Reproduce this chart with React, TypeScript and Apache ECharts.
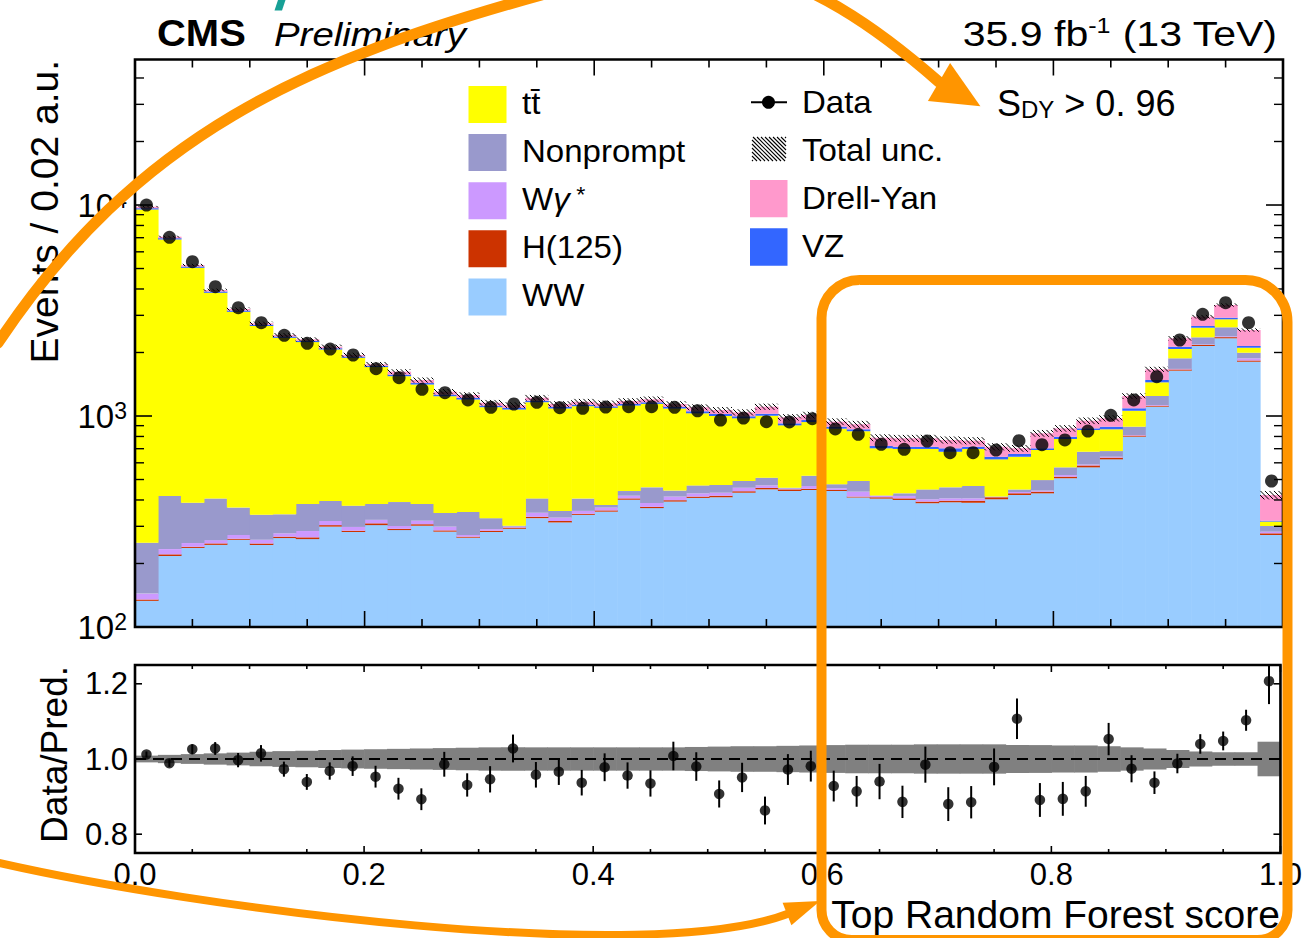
import React, { useEffect, useRef } from 'react';
import * as echarts from 'echarts';

// ---------------- data ----------------
const BIN_WIDTH = 0.02;

const ww = [133, 217, 237, 245, 259, 245, 264, 261, 299, 282, 304, 288, 302, 283, 265, 282, 292, 328, 313, 340, 352, 401, 366, 393, 409, 412, 433, 449, 441, 446, 441, 411, 406, 400, 386, 390, 388, 403, 422, 430, 507, 571, 623, 798, 1107, 1640, 2147, 2335, 1808, 273];
const higgs = [2, 4, 3, 4, 3, 4, 4, 5, 5, 4, 6, 4, 5, 4, 3, 4, 4, 5, 5, 4, 5, 6, 5, 6, 6, 7, 7, 7, 8, 6, 5, 4, 6, 7, 7, 7, 9, 9, 8, 8, 9, 12, 12, 10, 12, 22, 25, 30, 25, 5];
const wgamma = [9, 13, 10, 9, 11, 10, 10, 19, 14, 12, 12, 9, 12, 12, 5, 5, 3, 15, 12, 11, 11, 12, 16, 16, 15, 14, 17, 13, 4, 14, 8, 23, 6, 11, 10, 10, 10, 1, 6, 5, 9, 6, 6, 5, 8, 10, 10, 20, 44, 5];
const nonprompt = [107, 184, 138, 148, 95, 81, 64, 98, 78, 78, 61, 90, 64, 48, 78, 37, 3, 59, 25, 51, 11, 22, 72, 28, 39, 38, 35, 41, 4, 55, 21, 54, 2, 12, 46, 52, 59, 2, 13, 54, 46, 88, 41, 77, 117, 205, 178, 248, 118, 18];
const ttbar = [9271, 6446, 4651, 3431, 2750, 2327, 2005, 1857, 1670, 1512, 1322, 1153, 1027, 894, 846, 773, 771, 756, 730, 707, 714, 680, 683, 642, 561, 529, 483, 493, 446, 415, 396, 355, 283, 268, 249, 218, 232, 208, 192, 193, 207, 181, 183, 169, 200, 200, 261, 240, 112, 15];
const vz = [136, 98, 72, 55, 45, 38, 34, 32, 29, 26, 24, 26, 23, 21, 20, 18, 18, 19, 18, 18, 18, 19, 19, 18, 23, 22, 22, 22, 20, 21, 19, 18, 18, 17, 17, 26, 17, 18, 20, 13, 20, 16, 25, 29, 37, 53, 49, 51, 40, 3];
const drellYan = [159, 115, 84, 64, 52, 45, 39, 37, 35, 32, 29, 52, 48, 42, 41, 37, 36, 39, 37, 38, 37, 38, 39, 37, 47, 46, 44, 82, 63, 54, 50, 49, 68, 69, 69, 67, 49, 74, 42, 125, 76, 76, 85, 156, 184, 205, 286, 434, 409, 103];

const dataCounts = [10000, 7030, 5386, 4101, 3261, 2768, 2412, 2211, 2077, 1946, 1676, 1519, 1338, 1290, 1191, 1100, 1140, 1161, 1095, 1088, 1103, 1107, 1107, 1100, 1059, 957, 978, 940, 937, 971, 868, 819, 734, 695, 761, 670, 670, 690, 764, 731, 770, 849, 1008, 1191, 1536, 2292, 3034, 3444, 2768, 492];

const ratio = [1.012, 0.989, 1.026, 1.028, 0.997, 1.015, 0.973, 0.939, 0.968, 0.981, 0.953, 0.921, 0.893, 0.986, 0.931, 0.946, 1.028, 0.958, 0.966, 0.937, 0.978, 0.956, 0.935, 1.008, 0.980, 0.907, 0.951, 0.863, 0.972, 0.981, 0.928, 0.914, 0.940, 0.886, 0.985, 0.880, 0.885, 0.979, 1.107, 0.891, 0.894, 0.914, 1.053, 0.974, 0.937, 0.988, 1.040, 1.048, 1.103, 1.207];
const ratioErr = [0.008, 0.010, 0.013, 0.017, 0.019, 0.022, 0.020, 0.021, 0.023, 0.026, 0.029, 0.029, 0.029, 0.033, 0.031, 0.035, 0.037, 0.034, 0.035, 0.034, 0.037, 0.035, 0.035, 0.038, 0.038, 0.036, 0.039, 0.037, 0.041, 0.041, 0.041, 0.041, 0.047, 0.043, 0.048, 0.045, 0.043, 0.049, 0.054, 0.045, 0.045, 0.041, 0.043, 0.036, 0.030, 0.026, 0.026, 0.025, 0.028, 0.061];
const relUnc = [0.009, 0.011, 0.013, 0.015, 0.017, 0.019, 0.021, 0.022, 0.024, 0.025, 0.026, 0.027, 0.028, 0.029, 0.030, 0.031, 0.031, 0.031, 0.031, 0.031, 0.031, 0.031, 0.031, 0.031, 0.032, 0.033, 0.034, 0.034, 0.035, 0.036, 0.037, 0.038, 0.038, 0.038, 0.039, 0.039, 0.039, 0.039, 0.037, 0.037, 0.036, 0.036, 0.034, 0.031, 0.028, 0.024, 0.020, 0.018, 0.018, 0.046];

// tick values
const X_TICKS = [0, 0.05, 0.1, 0.15, 0.2, 0.25, 0.3, 0.35, 0.4, 0.45, 0.5, 0.55, 0.6, 0.65, 0.7, 0.75, 0.8, 0.85, 0.9, 0.95, 1.0];
const X_MAJOR = [0, 0.2, 0.4, 0.6, 0.8, 1.0];
const Y_MAIN_MAJOR = [100, 1000, 10000];
const Y_MAIN_MINOR = [200, 300, 400, 500, 600, 700, 800, 900, 2000, 3000, 4000, 5000, 6000, 7000, 8000, 9000, 20000, 30000, 40000];
const Y_RATIO_MAJOR = [0.8, 1.0, 1.2];

const Y_MIN = 100;
const Y_MAX = 48940;
const R_MIN = 0.75;
const R_MAX = 1.25;

const FONT = '"Liberation Sans", Arial, Helvetica, sans-serif';
const ORANGE = '#FF9500';

const components = [
  { name: 'WW', values: ww, color: '#99CCFF' },
  { name: 'H(125)', values: higgs, color: '#CC3300' },
  { name: 'Wγ*', values: wgamma, color: '#CC99FF' },
  { name: 'Nonprompt', values: nonprompt, color: '#9999CC' },
  { name: 'tt̄', values: ttbar, color: '#FFFF00' },
  { name: 'VZ', values: vz, color: '#3366FF' },
  { name: 'Drell-Yan', values: drellYan, color: '#FF99CC' },
];

// ---------------- helpers ----------------
function hatchLines(x0: number, y0: number, x1: number, y1: number, step: number) {
  const out: number[][] = [];
  if (!(x1 > x0 && y1 > y0)) return out;
  const cStart = Math.ceil((x0 - y1) / step) * step;
  for (let c = cStart; c <= x1 - y0; c += step) {
    const xa = Math.max(x0, c + y0);
    const xb = Math.min(x1, c + y1);
    if (xb > xa) out.push([xa, xa - c, xb, xb - c]);
  }
  return out;
}

function rectRenderer(color: string, widen = 0.6) {
  return (params: any, api: any) => {
    const cs = params.coordSys;
    const a = api.coord([api.value(0), api.value(3)]);
    const b = api.coord([api.value(1), api.value(2)]);
    const shape = echarts.graphic.clipRectByRect(
      { x: a[0], y: a[1], width: b[0] - a[0] + widen, height: b[1] - a[1] },
      { x: cs.x, y: cs.y, width: cs.width, height: cs.height }
    );
    if (!shape) return null;
    return { type: 'rect', shape, style: { fill: color } };
  };
}

function frameRenderer(yMajor: number[], yMinor: number[], yRef: number, lens: { xMaj: number; xMin: number; yMaj: number; yMin: number }) {
  return (params: any, api: any) => {
    const cs = params.coordSys;
    const children: any[] = [];
    const line = (x1: number, y1: number, x2: number, y2: number, w: number) =>
      children.push({ type: 'line', shape: { x1, y1, x2, y2 }, style: { stroke: '#000', lineWidth: w } });
    const bottom = cs.y + cs.height;
    const right = cs.x + cs.width;
    X_TICKS.forEach((v) => {
      const major = X_MAJOR.some((m) => Math.abs(m - v) < 1e-9);
      const px = api.coord([v, yRef])[0];
      const len = major ? lens.xMaj : lens.xMin;
      line(px, bottom, px, bottom - len, 1.6);
      line(px, cs.y, px, cs.y + len, 1.6);
    });
    yMajor.forEach((v) => {
      const py = api.coord([0.5, v])[1];
      line(cs.x, py, cs.x + lens.yMaj, py, 1.6);
      line(right, py, right - lens.yMaj, py, 1.6);
    });
    yMinor.forEach((v) => {
      const py = api.coord([0.5, v])[1];
      line(cs.x, py, cs.x + lens.yMin, py, 1.4);
      line(right, py, right - lens.yMin, py, 1.4);
    });
    children.push({
      type: 'rect',
      shape: { x: cs.x, y: cs.y, width: cs.width, height: cs.height },
      style: { fill: 'none', stroke: '#000', lineWidth: 2.6 },
    });
    return { type: 'group', children };
  };
}

function buildOption() {
  const nBins = ww.length;
  const running = new Array(nBins).fill(0);
  const series: any[] = [];

  components.forEach((c) => {
    const d = c.values.map((v, i) => {
      const lo = running[i];
      const hi = lo + v;
      running[i] = hi;
      return [i * BIN_WIDTH, (i + 1) * BIN_WIDTH, Math.max(lo, Y_MIN * 0.5), hi];
    });
    series.push({
      type: 'custom',
      name: c.name,
      xAxisIndex: 0,
      yAxisIndex: 0,
      encode: { x: [0, 1], y: [2, 3] },
      data: d,
      z: 2,
      silent: true,
      renderItem: rectRenderer(c.color),
    });
  });
  const totals = running.slice();

  // total uncertainty hatch
  series.push({
    type: 'custom',
    name: 'Total unc.',
    xAxisIndex: 0,
    yAxisIndex: 0,
    encode: { x: [0, 1], y: [2, 3] },
    data: totals.map((t, i) => [i * BIN_WIDTH, (i + 1) * BIN_WIDTH, t * (1 - relUnc[i]), t * (1 + relUnc[i])]),
    z: 3,
    silent: true,
    renderItem: (params: any, api: any) => {
      const cs = params.coordSys;
      const a = api.coord([api.value(0), api.value(3)]);
      const b = api.coord([api.value(1), api.value(2)]);
      const top = Math.max(a[1], cs.y);
      const bot = Math.min(b[1], cs.y + cs.height);
      const segs = hatchLines(a[0], top, b[0], bot, 4.5);
      return {
        type: 'group',
        children: segs.map((s) => ({
          type: 'line',
          shape: { x1: s[0], y1: s[1], x2: s[2], y2: s[3] },
          style: { stroke: '#000', lineWidth: 1 },
        })),
      };
    },
  });

  // data points
  series.push({
    type: 'scatter',
    name: 'Data',
    xAxisIndex: 0,
    yAxisIndex: 0,
    symbol: 'circle',
    symbolSize: 13,
    itemStyle: { color: '#000' },
    data: dataCounts.map((v, i) => [(i + 0.5) * BIN_WIDTH, v]),
    z: 5,
    silent: true,
  });

  // main frame and ticks
  series.push({
    type: 'custom',
    xAxisIndex: 0,
    yAxisIndex: 0,
    encode: { x: 0, y: 1 },
    data: [[0.5, 1000]],
    z: 10,
    silent: true,
    renderItem: frameRenderer(Y_MAIN_MAJOR, Y_MAIN_MINOR, 1000, { xMaj: 16, xMin: 8, yMaj: 17, yMin: 9 }),
  });

  // ratio band
  series.push({
    type: 'custom',
    xAxisIndex: 1,
    yAxisIndex: 1,
    encode: { x: [0, 1], y: [2, 3] },
    data: relUnc.map((u, i) => [i * BIN_WIDTH, (i + 1) * BIN_WIDTH, 1 - u, 1 + u]),
    z: 2,
    silent: true,
    renderItem: rectRenderer('#808080'),
  });

  // dashed unity line
  series.push({
    type: 'line',
    xAxisIndex: 1,
    yAxisIndex: 1,
    data: [[0, 1], [1, 1]],
    symbol: 'none',
    lineStyle: { color: '#000', width: 1.8, type: [11, 7] },
    z: 3,
    silent: true,
  });

  // ratio error bars
  series.push({
    type: 'custom',
    xAxisIndex: 1,
    yAxisIndex: 1,
    encode: { x: 0, y: [1, 2] },
    data: ratio.map((r, i) => [(i + 0.5) * BIN_WIDTH, r - ratioErr[i], r + ratioErr[i]]),
    z: 4,
    silent: true,
    renderItem: (params: any, api: any) => {
      const cs = params.coordSys;
      const a = api.coord([api.value(0), api.value(2)]);
      const b = api.coord([api.value(0), api.value(1)]);
      const y1 = Math.max(a[1], cs.y);
      const y2 = Math.min(b[1], cs.y + cs.height);
      if (y2 <= y1) return null;
      return { type: 'line', shape: { x1: a[0], y1, x2: a[0], y2 }, style: { stroke: '#000', lineWidth: 2 } };
    },
  });

  // ratio points
  series.push({
    type: 'scatter',
    xAxisIndex: 1,
    yAxisIndex: 1,
    symbol: 'circle',
    symbolSize: 10.5,
    itemStyle: { color: '#000' },
    data: ratio.map((r, i) => [(i + 0.5) * BIN_WIDTH, r]),
    z: 5,
    silent: true,
  });

  // ratio frame and ticks
  series.push({
    type: 'custom',
    xAxisIndex: 1,
    yAxisIndex: 1,
    encode: { x: 0, y: 1 },
    data: [[0.5, 1.0]],
    z: 10,
    silent: true,
    renderItem: frameRenderer(Y_RATIO_MAJOR, [], 1.0, { xMaj: 7, xMin: 4, yMaj: 7, yMin: 4 }),
  });

  // ---------------- graphic: texts, legend, annotations ----------------
  const g: any[] = [];
  const text = (x: number, y: number, t: string, style: any, extra: any = {}) =>
    g.push({
      type: 'text',
      x,
      y,
      z: 50,
      silent: true,
      ...extra,
      style: { text: t, fill: '#000', fontFamily: FONT, verticalAlign: 'middle', align: 'left', ...style },
    });

  text(157, 33.5, 'CMS', { fontSize: 37, fontWeight: 'bold' }, { scaleX: 1.08 });
  text(274, 34, 'Preliminary', { fontSize: 34, fontStyle: 'italic' }, { scaleX: 1.13 });
  text(1277, 33, '{n|35.9 fb}{s|-1}{n| (13 TeV)}', {
    align: 'right',
    rich: {
      n: { fontSize: 36, fontFamily: FONT, fill: '#000' },
      s: { fontSize: 22, fontFamily: FONT, fill: '#000', verticalAlign: 'top' },
    },
  }, { scaleX: 1.14 });
  text(997, 103, '{s|S}{d|DY}{t| > 0. 96}', {
    rich: {
      s: { fontSize: 36, fontFamily: FONT, fill: '#000' },
      d: { fontSize: 24, fontFamily: FONT, fill: '#000', verticalAlign: 'bottom' },
      t: { fontSize: 36, fontFamily: FONT, fill: '#000' },
    },
  });

  // axis titles
  text(44.5, 60, 'Events / 0.02 a.u.', { fontSize: 39, align: 'right' }, { rotation: Math.PI / 2 });
  text(54, 666, 'Data/Pred.', { fontSize: 37, align: 'right' }, { rotation: Math.PI / 2 });
  text(1280, 914, 'Top Random Forest score', { fontSize: 39, align: 'right' });

  // legend left column
  const leftRows = [
    { color: '#FFFF00', label: 'tt\u0304' },
    { color: '#9999CC', label: 'Nonprompt' },
    { color: '#CC99FF', label: '{a|W}{g|γ}{s| *}' },
    { color: '#CC3300', label: 'H(125)' },
    { color: '#99CCFF', label: 'WW' },
  ];
  leftRows.forEach((r, i) => {
    const top = 86 + 48.1 * i;
    g.push({ type: 'rect', z: 50, silent: true, shape: { x: 468.5, y: top, width: 38, height: 37 }, style: { fill: r.color } });
    text(522, top + 17, r.label, {
      fontSize: 31,
      rich: {
        a: { fontSize: 31, fontFamily: FONT, fill: '#000' },
        g: { fontSize: 31, fontFamily: FONT, fill: '#000', fontStyle: 'italic' },
        s: { fontSize: 22, fontFamily: FONT, fill: '#000', verticalAlign: 'top' },
      },
    }, { scaleX: 1.065 });
  });

  // legend right column
  g.push({ type: 'line', z: 50, silent: true, shape: { x1: 751, y1: 102.3, x2: 787, y2: 102.3 }, style: { stroke: '#000', lineWidth: 2 } });
  g.push({ type: 'circle', z: 51, silent: true, shape: { cx: 768.5, cy: 102.3, r: 6.5 }, style: { fill: '#000' } });
  text(802, 102.5, 'Data', { fontSize: 31 }, { scaleX: 1.065 });

  hatchLines(752, 137, 786, 161, 4).forEach((s) =>
    g.push({ type: 'line', z: 50, silent: true, shape: { x1: s[0], y1: s[1], x2: s[2], y2: s[3] }, style: { stroke: '#000', lineWidth: 1.1 } })
  );
  text(802, 150.5, 'Total unc.', { fontSize: 31 }, { scaleX: 1.065 });

  g.push({ type: 'rect', z: 50, silent: true, shape: { x: 750, y: 180, width: 37.5, height: 37.3 }, style: { fill: '#FF99CC' } });
  text(802, 198.5, 'Drell-Yan', { fontSize: 31 }, { scaleX: 1.065 });
  g.push({ type: 'rect', z: 50, silent: true, shape: { x: 750, y: 228.3, width: 37.5, height: 37.4 }, style: { fill: '#3366FF' } });
  text(802, 246.5, 'VZ', { fontSize: 31 }, { scaleX: 1.065 });

  // teal fragment at the very top
  g.push({ type: 'polygon', z: 60, silent: true, shape: { points: [[278, 0], [285.5, 0], [282, 10.5], [274.5, 10.5]] }, style: { fill: '#17A096' } });

  // orange annotations: upper arc (two bezier pieces) + arrowhead
  g.push({
    type: 'bezierCurve', z: 100, silent: true,
    shape: { x1: -2, y1: 343, cpx1: 136.7, cpy1: 135, cpx2: 304, cpy2: 60.5, x2: 545, y2: -6 },
    style: { stroke: ORANGE, lineWidth: 11, fill: 'none', lineCap: 'round' },
  });
  g.push({
    type: 'bezierCurve', z: 100, silent: true,
    shape: { x1: 545, y1: -6, cpx1: 700, cpy1: -65, cpx2: 800, cpy2: -40, x2: 939, y2: 82 },
    style: { stroke: ORANGE, lineWidth: 11, fill: 'none', lineCap: 'round' },
  });
  g.push({
    type: 'polygon', z: 100, silent: true,
    shape: { points: [[950.1, 63.0], [927.9, 101.0], [980.4, 106.2]] },
    style: { fill: ORANGE },
  });
  // lower arc + arrowhead
  g.push({
    type: 'bezierCurve', z: 100, silent: true,
    shape: { x1: -5, y1: 862, cpx1: 195, cpy1: 908, cpx2: 650, cpy2: 968, x2: 790, y2: 913 },
    style: { stroke: ORANGE, lineWidth: 8, fill: 'none' },
  });
  g.push({
    type: 'polygon', z: 100, silent: true,
    shape: { points: [[782.6, 902.8], [791.4, 925.2], [820, 901]] },
    style: { fill: ORANGE },
  });
  // rounded highlight box
  g.push({
    type: 'rect', z: 100, silent: true,
    shape: { x: 821.5, y: 280, width: 466, height: 660, r: [38, 42, 30, 30] },
    style: { fill: 'none', stroke: ORANGE, lineWidth: 10 },
  });

  const hidden = { axisLine: { show: false }, axisTick: { show: false }, splitLine: { show: false } };

  return {
    animation: false,
    backgroundColor: '#ffffff',
    textStyle: { fontFamily: FONT },
    grid: [
      { left: 135, top: 59.5, width: 1148, height: 567.5 },
      { left: 135, top: 665, width: 1148, height: 188 },
    ],
    xAxis: [
      { type: 'value', gridIndex: 0, min: 0, max: 1, axisLabel: { show: false }, ...hidden },
      {
        type: 'value', gridIndex: 1, min: 0, max: 1, interval: 0.2,
        axisLabel: { fontSize: 31, color: '#000', margin: 6, fontFamily: FONT, formatter: (v: number) => v.toFixed(1) },
        ...hidden,
      },
    ],
    yAxis: [
      {
        type: 'log', gridIndex: 0, min: Y_MIN, max: Y_MAX, logBase: 10,
        axisLabel: {
          customValues: Y_MAIN_MAJOR,
          margin: 8,
          formatter: (v: number) => {
            const e = Math.log10(v);
            if (Math.abs(e - Math.round(e)) > 1e-6) return '';
            return `{b|10}{s|${Math.round(e)}}`;
          },
          rich: {
            b: { fontSize: 33, color: '#000', fontFamily: FONT },
            s: { fontSize: 23, color: '#000', fontFamily: FONT, verticalAlign: 'top' },
          },
        },
        ...hidden,
      },
      {
        type: 'value', gridIndex: 1, min: R_MIN, max: R_MAX,
        axisLabel: {
          customValues: Y_RATIO_MAJOR,
          fontSize: 31, color: '#000', margin: 7, fontFamily: FONT,
          formatter: (v: number) => (Y_RATIO_MAJOR.some((m) => Math.abs(m - v) < 1e-6) ? v.toFixed(1) : ''),
        },
        ...hidden,
      },
    ],
    series,
    graphic: { elements: g },
  };
}

export default function App() {
  const ref = useRef<HTMLDivElement>(null);
  useEffect(() => {
    if (!ref.current) return;
    const chart = echarts.init(ref.current, undefined, { renderer: 'svg' });
    chart.setOption(buildOption() as any);
    return () => chart.dispose();
  }, []);
  return (
    <div
      ref={ref}
      style={{ position: 'fixed', left: 0, top: 0, width: 1305, height: 938, background: '#ffffff' }}
    />
  );
}
